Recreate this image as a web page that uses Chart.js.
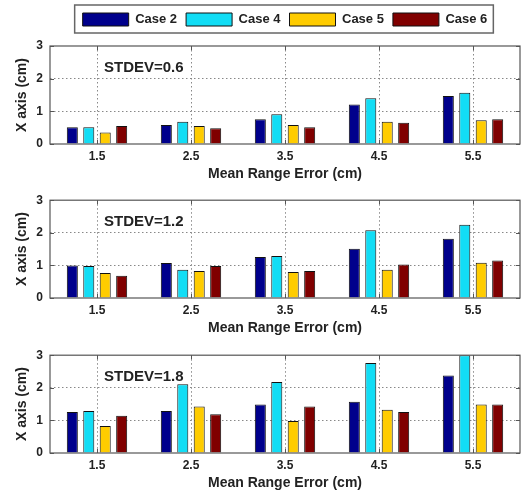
<!DOCTYPE html>
<html><head><meta charset="utf-8">
<script src="https://cdn.jsdelivr.net/npm/chart.js@4"></script>
<style>
html,body{margin:0;padding:0;background:#fff;width:530px;height:495px;overflow:hidden;}
.c{position:absolute;left:0;width:530px;}
</style></head><body>
<div class="c" style="top:0;height:189px"><canvas id="c1"></canvas></div>
<div class="c" style="top:186px;height:157px"><canvas id="c2"></canvas></div>
<div class="c" style="top:341px;height:157px"><canvas id="c3"></canvas></div>
<script>
const categories = ['1.5','2.5','3.5','4.5','5.5'];
const seriesNames = ['Case 2','Case 4','Case 5','Case 6'];
const seriesColors = ['#00008C','#12DDF5','#FFCC00','#800000'];
const yTicks = [0,1,2,3];

const stdev06_case2 = [0.51,0.58,0.76,1.21,1.47];
const stdev06_case4 = [0.51,0.68,0.91,1.40,1.57];
const stdev06_case5 = [0.35,0.55,0.58,0.68,0.73];
const stdev06_case6 = [0.55,0.48,0.51,0.65,0.76];

const stdev12_case2 = [1.00,1.07,1.26,1.51,1.82];
const stdev12_case4 = [0.98,0.87,1.29,2.08,2.25];
const stdev12_case5 = [0.77,0.83,0.80,0.87,1.08];
const stdev12_case6 = [0.68,0.98,0.83,1.03,1.15];

const stdev18_case2 = [1.26,1.29,1.49,1.57,2.38];
const stdev18_case4 = [1.29,2.11,2.18,2.76,3.00];
const stdev18_case5 = [0.83,1.43,0.98,1.33,1.49];
const stdev18_case6 = [1.14,1.19,1.43,1.26,1.49];

const panelLabels = ['STDEV=0.6','STDEV=1.2','STDEV=1.8'];
const xTitle = 'Mean Range Error (cm)';
const yTitle = 'X axis (cm)';

const FONT = "'Liberation Sans', Arial, sans-serif";
Chart.defaults.font.family = FONT;
Chart.defaults.color = '#222';

const framePlugin = {
  id: 'frame',
  afterDatasetsDraw(chart, args, opts) {
    const a = chart.chartArea, ctx = chart.ctx;
    const xs = chart.scales.x, ys = chart.scales.y;
    ctx.save();
    ctx.strokeStyle = '#555';
    ctx.lineWidth = 1;
    ctx.beginPath();
    xs.ticks.forEach((t, i) => {
      const px = Math.round(xs.getPixelForTick(i)) + 0.5;
      ctx.moveTo(px, a.bottom); ctx.lineTo(px, a.bottom - 4);
      ctx.moveTo(px, a.top); ctx.lineTo(px, a.top + 4);
    });
    ys.ticks.forEach((t, i) => {
      const py = Math.round(ys.getPixelForTick(i)) + 0.5;
      ctx.moveTo(a.left, py); ctx.lineTo(a.left + 4, py);
      ctx.moveTo(a.right, py); ctx.lineTo(a.right - 4, py);
    });
    ctx.stroke();
    ctx.lineWidth = 1.2;
    ctx.strokeRect(a.left, a.top, a.right - a.left, a.bottom - a.top);
    ctx.font = "bold 15px " + FONT;
    ctx.fillStyle = '#222';
    ctx.textBaseline = 'middle';
    ctx.fillText(opts.label, a.left + 54, a.top + 22);
    ctx.restore();
  }
};
const legendFrame = {
  id: 'legendFrame',
  beforeLayout(chart) {
    const lg = chart.legend;
    if (lg && !lg._extraWrapped) {
      const f = lg.fit.bind(lg);
      lg.fit = function () { f(); if (this.options.display) this.height += 10; };
      lg._extraWrapped = true;
    }
  },
  afterDraw(chart) {
    const lg = chart.legend;
    if (!lg || !lg.legendHitBoxes || !lg.options.display) return;
    const hb = lg.legendHitBoxes;
    let l = Math.min(...hb.map(h => h.left)), r = Math.max(...hb.map(h => h.left + h.width));
    let t = Math.min(...hb.map(h => h.top)), b = Math.max(...hb.map(h => h.top + h.height));
    const ctx = chart.ctx;
    ctx.save();
    ctx.strokeStyle = '#666';
    ctx.lineWidth = 1.5;
    ctx.strokeRect(l - 8, t - 8, (r - l) + 14, (b - t) + 15);
    ctx.restore();
  }
};

function makeChart(id, data, label, showLegend, topPad) {
  const datasets = data.map((d, i) => ({
    label: seriesNames[i],
    data: d,
    backgroundColor: seriesColors[i],
    borderColor: '#111',
    borderWidth: 1,
    categoryPercentage: 0.7,
    barPercentage: 0.67
  }));
  return new Chart(document.getElementById(id), {
    type: 'bar',
    data: { labels: categories, datasets },
    plugins: [framePlugin, legendFrame],
    options: {
      responsive: true,
      maintainAspectRatio: false,
      animation: false,
      layout: { padding: { top: topPad, right: 10, left: 0, bottom: 0 } },
      plugins: {
        tooltip: { enabled: false },
        frame: { label },
        legend: {
          display: showLegend,
          fullSize: false,
          position: 'top',
          labels: {
            boxWidth: 46, boxHeight: 13, padding: 9,
            font: { size: 13, weight: 'bold' },
            color: '#222'
          }
        }
      },
      scales: {
        x: {
          offset: true,
          grid: { offset: false, drawTicks: false, color: '#888', lineWidth: 1 },
          border: { display: false, dash: [1.5,2.5] },
          ticks: { padding: 5, font: { size: 12, weight: 'bold' }, color: '#222' },
          title: { display: true, text: xTitle, font: { size: 14, weight: 'bold' }, color: '#222', padding: { top: 2, bottom: 6 } },
          afterFit(s) { s.height = 45; }
        },
        y: {
          min: 0, max: 3,
          afterBuildTicks(s) { s.ticks = yTicks.map(v => ({ value: v })); },
          grid: {
            drawTicks: false,
            color: c => (c.tick && (c.tick.value === 1 || c.tick.value === 2)) ? '#888' : 'rgba(0,0,0,0)',
            lineWidth: 1
          },
          border: { display: false, dash: [1.5,2.5] },
          ticks: { padding: 7, font: { size: 12, weight: 'bold' }, color: '#222' },
          title: { display: true, text: yTitle, font: { size: 14, weight: 'bold' }, color: '#222', padding: { top: 14, bottom: 0 } },
          afterFit(s) { s.width = 50; }
        }
      }
    }
  });
}

makeChart('c1', [stdev06_case2, stdev06_case4, stdev06_case5, stdev06_case6], panelLabels[0], true, 4);
makeChart('c2', [stdev12_case2, stdev12_case4, stdev12_case5, stdev12_case6], panelLabels[1], false, 0);
makeChart('c3', [stdev18_case2, stdev18_case4, stdev18_case5, stdev18_case6], panelLabels[2], false, 0);
</script>
</body></html>
